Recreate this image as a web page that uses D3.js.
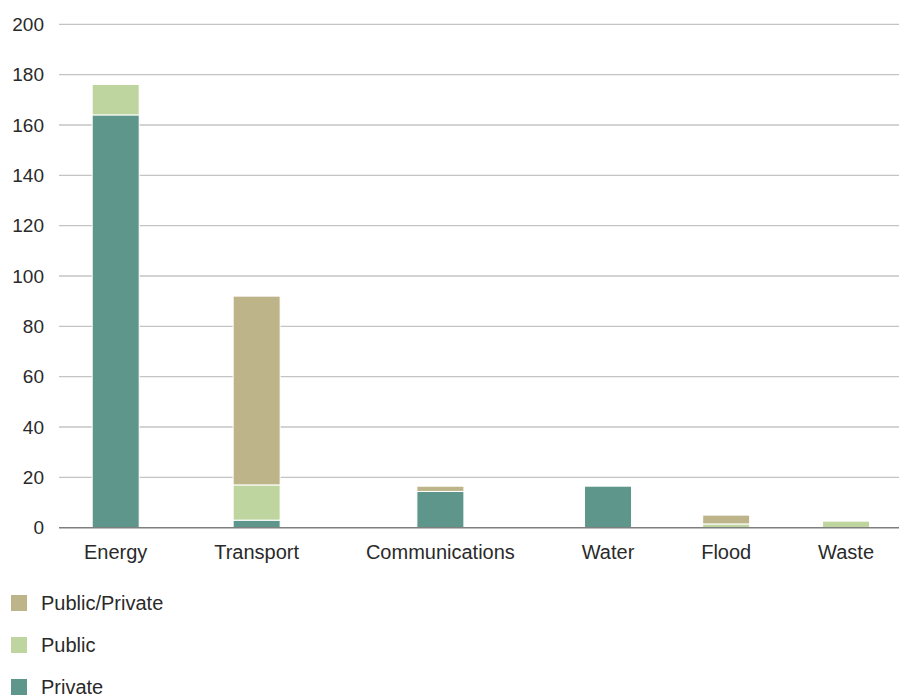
<!DOCTYPE html>
<html>
<head>
<meta charset="utf-8">
<script src="https://cdn.jsdelivr.net/npm/d3@7"></script>
<style>
  body { margin: 0; background: #fff; }
  text { font-family: "Liberation Sans", Arial, sans-serif; fill: #2a2a2a; }
</style>
</head>
<body>
<script>
// chart data
var categories = ["Energy", "Transport", "Communications", "Water", "Flood", "Waste"];
var privateVals = [164, 3, 14.4, 16.5, 0, 0];
var publicVals = [12.1, 14, 0, 0, 1.5, 2.7];
var publicPrivateVals = [0, 75, 2.1, 0, 3.5, 0.3];
var yTicks = [0, 20, 40, 60, 80, 100, 120, 140, 160, 180, 200];
var seriesNames = ["Private", "Public", "Public/Private"];
var seriesColors = ["#5f968b", "#bfd5a0", "#bdb48a"];

var w = 899, h = 697;
var plotLeft = 59, plotRight = 899;
var barWidth = 47;

var svg = d3.select("body").append("svg")
    .attr("width", w)
    .attr("height", h);

var rows = categories.map(function (c, i) {
    return {cat: c, "Private": privateVals[i], "Public": publicVals[i], "Public/Private": publicPrivateVals[i]};
});
var stacked = d3.stack().keys(seriesNames)(rows);

var y = d3.scaleLinear()
    .domain([0, 200])
    .range([527.7, 24.3]);

// x labels: measure widths, spread them with an even gap between labels
var labels = svg.append("g").attr("class", "x-labels");
var labelText = labels.selectAll("text")
    .data(categories)
    .join("text")
    .attr("font-size", 20)
    .attr("text-anchor", "middle")
    .text(function (d) { return d; });

var widths = [];
labelText.each(function () { widths.push(this.getComputedTextLength()); });
var sumW = d3.sum(widths);
var pad = 25;
var gap = (plotRight - plotLeft - 2 * pad - sumW) / (categories.length - 1);
var centers = [];
var cursor = plotLeft + pad;
widths.forEach(function (wd) {
    centers.push(cursor + wd / 2);
    cursor += wd + gap;
});
var x = d3.scaleOrdinal().domain(categories).range(centers);

labelText
    .attr("x", function (d) { return x(d); })
    .attr("y", 559);

// gridlines
svg.append("g")
    .selectAll("line")
    .data(yTicks.filter(function (d) { return d > 0; }))
    .join("line")
    .attr("x1", plotLeft)
    .attr("x2", plotRight)
    .attr("y1", function (d) { return y(d); })
    .attr("y2", function (d) { return y(d); })
    .attr("stroke", "#c4c4c4")
    .attr("stroke-width", 1.3);

// y tick labels
svg.append("g")
    .selectAll("text")
    .data(yTicks)
    .join("text")
    .attr("x", 44)
    .attr("y", function (d) { return y(d); })
    .attr("dy", "0.35em")
    .attr("text-anchor", "end")
    .attr("font-size", 19)
    .text(function (d) { return d; });

// bars
svg.append("g")
    .selectAll("g")
    .data(stacked)
    .join("g")
    .attr("fill", function (d, i) { return seriesColors[i]; })
    .selectAll("rect")
    .data(function (d) { return d.filter(function (s) { return s[1] - s[0] > 0; }); })
    .join("rect")
    .attr("x", function (d) { return x(d.data.cat) - barWidth / 2; })
    .attr("width", barWidth)
    .attr("y", function (d) { return y(d[1]); })
    .attr("height", function (d) { return y(d[0]) - y(d[1]); })
    .attr("stroke", "#fff")
    .attr("stroke-width", 1);

// baseline
svg.append("line")
    .attr("x1", plotLeft)
    .attr("x2", plotRight)
    .attr("y1", y(0))
    .attr("y2", y(0))
    .attr("stroke", "#7f7f7f")
    .attr("stroke-width", 1.5);

// legend (reverse order)
var legendItems = seriesNames.map(function (n, i) { return {name: n, color: seriesColors[i]}; }).reverse();
var legend = svg.append("g")
    .selectAll("g")
    .data(legendItems)
    .join("g")
    .attr("transform", function (d, i) { return "translate(0," + (603 + i * 42) + ")"; });

legend.append("rect")
    .attr("x", 11)
    .attr("y", -8)
    .attr("width", 16)
    .attr("height", 16)
    .attr("fill", function (d) { return d.color; });

legend.append("text")
    .attr("x", 41)
    .attr("dy", "0.33em")
    .attr("font-size", 20)
    .text(function (d) { return d.name; });
</script>
</body>
</html>
